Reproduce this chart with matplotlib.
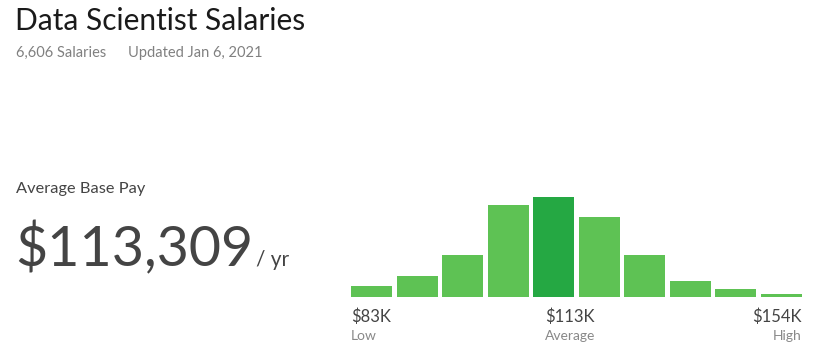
import matplotlib.pyplot as plt

plt.rcParams['font.family'] = ['Lato', 'DejaVu Sans']

# salary distribution, relative bar heights (tallest = average bucket)
counts = [11, 21, 42, 92, 100, 80, 42, 16, 8, 3]
avg_idx = 4
low_label, avg_label, high_label = '$83K', '$113K', '$154K'

W, H = 823, 356
fig = plt.figure(figsize=(W / 100, H / 100), dpi=100)

def put(x, y, s, **kw):
    # x, y in pixels from top-left, y is text baseline
    fig.text(x / W, 1 - y / H, s, va='baseline', **kw)

put(15, 30, 'Data Scientist Salaries', fontsize=21.5, color='#1a1a1a')
put(16, 57, '6,606 Salaries', fontsize=10.5, color='#808080')
put(128, 57, 'Updated Jan 6, 2021', fontsize=10.5, color='#808080')

put(16, 193, 'Average Base Pay', fontsize=11.8, color='#444444')
put(15, 266, '$113,309', fontsize=40, color='#444444')
put(256, 266, '/ yr', fontsize=15, color='#444444')

light = '#5ec254'
dark = '#25a843'
colors = [dark if i == avg_idx else light for i in range(len(counts))]

ax = fig.add_axes([351 / W, 1 - 297 / H, 451 / W, 100 / H])
ax.bar(range(len(counts)), counts, width=0.9, color=colors)
ax.set_xlim(-0.45, len(counts) - 0.55)
ax.set_ylim(0, 100)
ax.axis('off')

put(351, 322, low_label, fontsize=12, color='#444444')
put(351, 340, 'Low', fontsize=10, color='#888888')
put(545, 322, avg_label, fontsize=12, color='#444444')
put(545, 340, 'Average', fontsize=10, color='#888888')
put(802, 322, high_label, fontsize=12, color='#444444', ha='right')
put(802, 340, 'High', fontsize=10, color='#888888', ha='right')

fig.savefig('out.png', dpi=100)
